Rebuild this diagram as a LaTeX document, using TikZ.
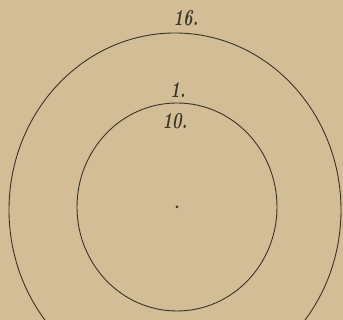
\documentclass[tikz,border=0pt]{standalone}
\usepackage{xcolor}
\usepackage{graphicx}
\usepackage{tikz}
\usetikzlibrary{positioning}
\definecolor{paper}{HTML}{D2BD96}
\definecolor{ink}{HTML}{3A3428}
\newcommand\tallnum[1]{\scalebox{0.85}[1.2]{#1}}

\begin{document}
\begin{tikzpicture}[x=1pt, y=1pt,
    numeral/.style={font=\fontsize{19}{19}\selectfont\bfseries\itshape, text=ink, inner sep=0pt}]
  % paper
  \fill[paper] (0,0) rectangle (343,320);
  \useasboundingbox (0,0) rectangle (343,320);

  % rings
  \coordinate (centre) at (177,113);
  \draw[ink, line width=0.9pt] (175,110) ellipse [x radius=166, y radius=177];
  \draw[ink, line width=0.9pt] (centre) ellipse [x radius=100, y radius=104];
  \fill[ink] (centre) circle (1.5pt);

  % numbers
  \node[numeral] (outer) at (186,302) {\tallnum{16.}};
  \node[numeral] (one) at (178,230) {\tallnum{1.}};
  \node[numeral] (inner) at (175,199) {\tallnum{10.}};
\end{tikzpicture}
\end{document}
